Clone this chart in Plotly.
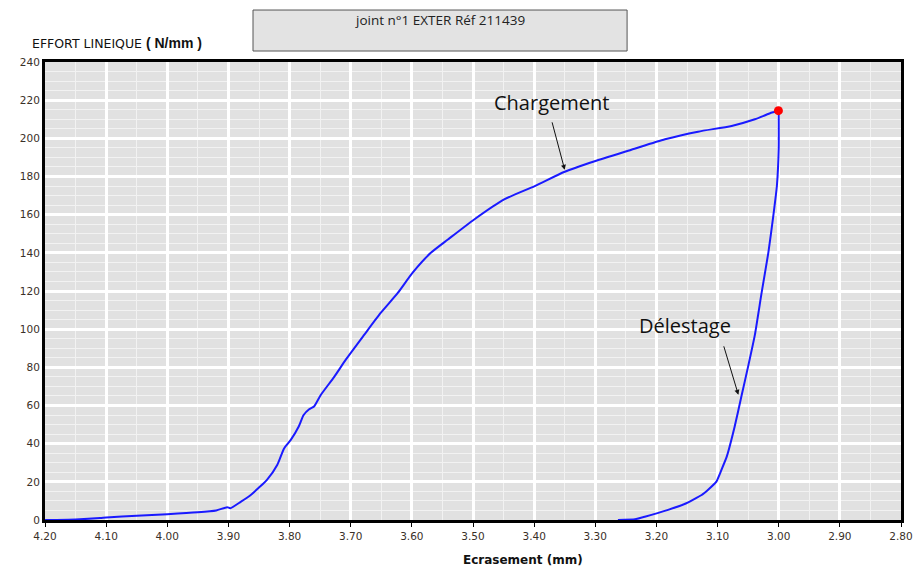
import plotly.graph_objects as go

# Chargement (loading) curve
x_charge = [4.20, 4.15, 4.11, 4.10, 4.05, 4.00, 3.95, 3.92, 3.902, 3.897, 3.88, 3.864,
            3.850, 3.837, 3.820, 3.809, 3.798, 3.785, 3.777, 3.768, 3.760, 3.749, 3.727,
            3.708, 3.678, 3.651, 3.623, 3.599, 3.569, 3.541, 3.498, 3.449, 3.399, 3.350,
            3.301, 3.241, 3.186, 3.132, 3.077, 3.039, 3.011, 3.000]
y_charge = [0, 0.3, 1, 1.3, 2.2, 3, 4, 5, 6.7, 6.2, 9.5, 13,
            17, 21, 29, 37.5, 42, 49, 55, 58, 59.5, 65.5, 75,
            84, 97, 108.5, 119, 129.5, 140, 147, 157.5, 168, 175, 182.5,
            188, 194, 199.5, 203.5, 206.5, 210, 213.5, 214.5]

# Délestage (unloading) curve
x_decharge = [3.000, 3.000, 3.003, 3.009, 3.017, 3.028, 3.039, 3.050, 3.061,
              3.072, 3.085, 3.094, 3.102, 3.115, 3.126, 3.154, 3.181, 3.219, 3.235, 3.263]
y_decharge = [214.5, 195, 175, 159, 140, 119, 97, 80.5, 64.8,
              49, 33.2, 26, 20.1, 16, 13.1, 8.4, 5.3, 1.7, 0.4, 0]

x_max = [3.0005]
y_max = [214.5]

x_ticks = [4.2, 4.1, 4.0, 3.9, 3.8, 3.7, 3.6, 3.5, 3.4, 3.3, 3.2, 3.1, 3.0, 2.9, 2.8]
y_ticks = [0, 20, 40, 60, 80, 100, 120, 140, 160, 180, 200, 220, 240]

blue = '#1a1aff'
tick_font = dict(family='DejaVu Sans', size=10.5, color='#3a3028')
text_font = 'Open Sans'

fig = go.Figure()
fig.add_trace(go.Scatter(x=x_charge, y=y_charge, mode='lines',
                         line=dict(color=blue, width=2, shape='spline', smoothing=0.6),
                         showlegend=False))
fig.add_trace(go.Scatter(x=x_decharge, y=y_decharge, mode='lines',
                         line=dict(color=blue, width=2, shape='spline', smoothing=0.4),
                         showlegend=False))
fig.add_trace(go.Scatter(x=x_max, y=y_max, mode='markers',
                         marker=dict(color='#ff0000', size=9), showlegend=False))

fig.update_xaxes(
    range=[4.2, 2.8], tickvals=x_ticks, ticktext=['%.2f' % v for v in x_ticks],
    showgrid=True, gridcolor='white', gridwidth=3,
    minor=dict(dtick=0.05, showgrid=True, gridcolor='#f2f2f2', gridwidth=1),
    showline=True, linecolor='black', linewidth=3, mirror=True,
    ticks='outside', ticklen=4, tickcolor='black', tickwidth=1,
    tickfont=tick_font, zeroline=False, automargin=False, ticklabeloverflow='allow',
)
fig.update_yaxes(
    range=[0, 240], tickvals=y_ticks,
    showgrid=True, gridcolor='white', gridwidth=3,
    minor=dict(dtick=5, showgrid=True, gridcolor='#f2f2f2', gridwidth=1),
    showline=True, linecolor='black', linewidth=3, mirror=True,
    ticks='', tickfont=tick_font, zeroline=False, automargin=False,
)

# title box
fig.add_shape(type='rect', xref='paper', yref='paper',
              x0=0.243, x1=0.680, y0=1.024, y1=1.1135,
              fillcolor='#e3e3e3', line=dict(color='#555555', width=1))

annotations = [
    dict(text='joint n°1 EXTER Réf 211439', xref='paper', yref='paper',
         x=0.4615, y=1.0917, xanchor='center', yanchor='middle', showarrow=False,
         font=dict(family=text_font, size=13.5, color='#222222')),
    dict(text='EFFORT LINEIQUE <span style="font-family:Liberation Sans;font-size:14px">'
              '<b>( N/mm )</b></span>',
         xref='paper', yref='paper', x=-0.0175, y=1.042, xanchor='left', yanchor='middle',
         showarrow=False, font=dict(family='DejaVu Sans', size=12.5, color='#111111')),
    dict(text='<b>Ecrasement (mm)</b>', xref='paper', yref='paper',
         x=0.486, y=-0.088, xanchor='left', yanchor='middle', showarrow=False,
         font=dict(family='DejaVu Sans', size=12, color='#111111')),
    dict(text='Chargement', x=3.372, y=219, xanchor='center', yanchor='middle',
         showarrow=False, font=dict(family=text_font, size=20, color='#111111')),
    dict(text='Délestage', x=3.153, y=102, xanchor='center', yanchor='middle',
         showarrow=False, font=dict(family=text_font, size=20, color='#111111')),
    dict(text='', x=3.35, y=183.5, ax=-13, ay=-49, showarrow=True,
         arrowhead=2, arrowsize=1, arrowwidth=1, arrowcolor='#111111'),
    dict(text='', x=3.066, y=65.6, ax=-15, ay=-50, showarrow=True,
         arrowhead=2, arrowsize=1, arrowwidth=1, arrowcolor='#111111'),
]

fig.update_layout(
    width=914, height=568,
    margin=dict(l=45, r=13, t=62, b=48),
    plot_bgcolor='#e1e1e1', paper_bgcolor='white',
    annotations=annotations,
)

# drop the default body margin so the figure fills the window exactly
fig.write_html("out.html", config={'displayModeBar': False},
               post_script="document.body.style.margin='0';")
